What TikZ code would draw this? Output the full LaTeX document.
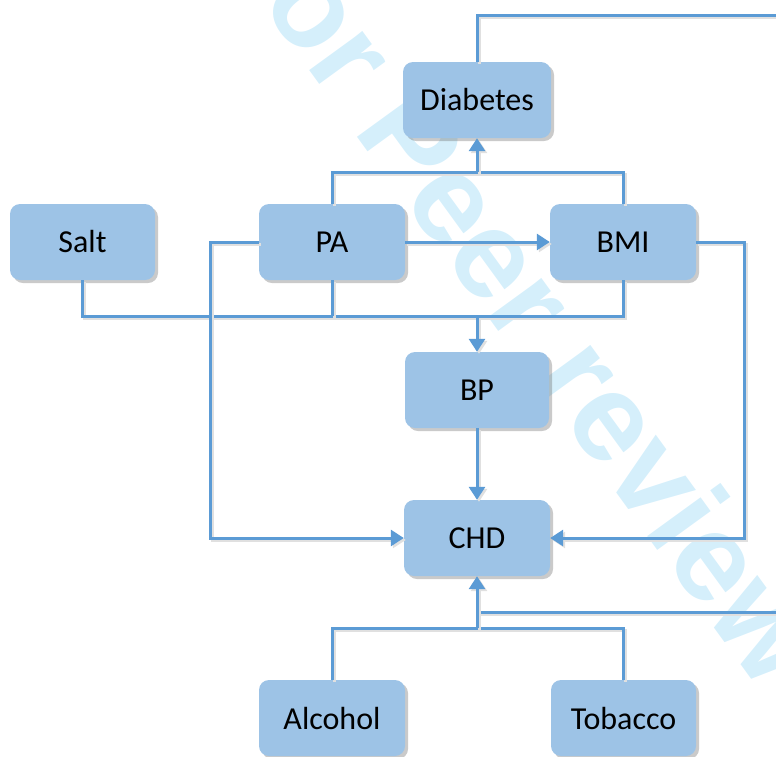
\documentclass[tikz,border=0pt]{standalone}
\usepackage{fontspec}
\setmainfont{Carlito}
\newfontfamily\wmfont{Liberation Sans}
\usetikzlibrary{arrows.meta,shadows}
\definecolor{boxfill}{HTML}{9DC3E6}
\definecolor{linecol}{HTML}{5B9BD5}
\definecolor{wmcol}{HTML}{D5EFFB}
\begin{document}
\begin{tikzpicture}[x=1pt,y=-1pt,
  box/.style={rectangle, rounded corners=10pt, fill=boxfill, minimum height=76pt,
    minimum width=146pt, inner sep=0pt, font=\fontsize{32}{38}\selectfont,
    drop shadow={shadow xshift=3pt, shadow yshift=-3pt, opacity=0.35, fill=black!60}},
  conn/.style={draw=linecol, line width=3pt,
    preaction={draw=black!12, line width=3pt, transform canvas={shift={(2pt,-2pt)}}}},
  arr/.style={conn, -{Triangle[width=16pt,length=13pt]}}
]
\useasboundingbox (0,0) rectangle (776,756);
\clip (0,0) rectangle (776,756);
% watermark
\node[text=wmcol, font=\wmfont\bfseries\fontsize{125}{130}\selectfont, rotate=-54, inner sep=0pt] (wm) at (524,290) {For Peer review};

% nodes
\node[box, minimum width=148pt] (diab) at (477,100) {Diabetes};
\node[box, minimum width=145pt] (salt) at (82.5,242) {Salt};
\node[box] (pa) at (332,242) {PA};
\node[box] (bmi) at (623,242) {BMI};
\node[box, minimum width=144pt] (bp) at (477,390) {BP};
\node[box] (chd) at (477,538) {CHD};
\node[box] (alc) at (332,718) {Alcohol};
\node[box, minimum width=145pt] (tob) at (623.5,718) {Tobacco};

% junction coordinates
\coordinate (jtop) at (477,172);
\coordinate (jmid) at (477,316);
\coordinate (jbot) at (477,628);
\coordinate (outtop) at (780,15);
\coordinate (outbot) at (780,612);

% connectors
\draw[conn] (diab.north) |- (outtop);
\draw[conn] (pa.north) |- (jtop) -| (bmi.north);
\draw[arr] (jtop) -- (diab.south);
\draw[arr] (pa.east) -- (bmi.west);
\draw[conn] (salt.south) |- (jmid) -| (bmi.south);
\draw[conn] (pa.south) -- (pa.south |- jmid);
\draw[arr] (jmid) -- (bp.north);
\draw[arr] (pa.west) -- (210,242) |- (chd.west);
\draw[arr] (bmi.east) -- (744,242) |- (chd.east);
\draw[arr] (bp.south) -- (chd.north);
\draw[conn] (alc.north) |- (jbot) -| (tob.north);
\draw[conn] (outbot) -- (chd.south |- outbot);
\draw[arr] (jbot) -- (chd.south);
\end{tikzpicture}
\end{document}
